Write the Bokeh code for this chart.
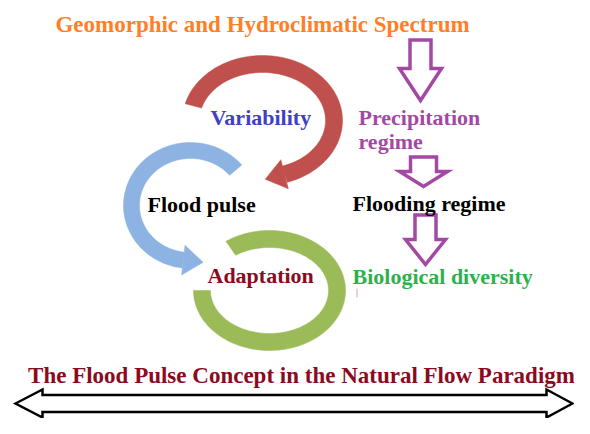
import numpy as np
from bokeh.plotting import figure
from bokeh.models import Range1d
from bokeh.embed import file_html
from bokeh.resources import INLINE
from bokeh.core.properties import value

# ---- content ----
title_text = "Geomorphic and Hydroclimatic Spectrum"
footer_text = "The Flood Pulse Concept in the Natural Flow Paradigm"
cycle_labels = ["Variability", "Flood pulse", "Adaptation"]
chain_labels = ["Precipitation", "regime", "Flooding regime", "Biological diversity"]

# ---- layout (pixel coordinates, y downward) ----
cycle_x = [210, 147, 207]
cycle_y = [117, 204, 275]
cycle_colors = ["#4040C4", "#000000", "#8B0A1E"]
chain_x = [358, 358, 352, 352]
chain_y = [117, 141, 203, 276]
chain_colors = ["#A349A4", "#A349A4", "#000000", "#2DB24A"]

# rings: cx, cy, rx, ry, width, start angle, end angle, colour, arrowhead?
rings = [
    (262, 120, 71.5, 56.5, 17, 165, -72, "#C0504D", True),
    (190, 205, 59.0, 55.0, 16, 40, 263, "#8DB3E2", True),
    (269, 290, 67.5, 51.5, 17, 125, -180, "#9BBB59", False),
]

# hollow down arrows: cx, shaft half width, head half width, top, neck, tip
down_arrows = [
    (420, 10.5, 21, 39.5, 68, 100),
    (423, 13.0, 24, 156.5, 171, 186),
    (425, 10.5, 20, 214.5, 239, 264),
]

FONT = value("Liberation Serif")

p = figure(width=574, height=418, x_range=Range1d(0, 574), y_range=Range1d(418, 0),
           x_axis_type=None, y_axis_type=None, toolbar_location=None,
           output_backend="svg", min_border=0)
p.grid.visible = False
p.outline_line_color = None
p.background_fill_color = "white"
p.border_fill_color = "white"


def ring_patch(cx, cy, rx, ry, w, a0, a1, n=160):
    t = np.radians(np.linspace(a0, a1, n))
    xo = cx + (rx + w / 2) * np.cos(t)
    yo = cy - (ry + w / 2) * np.sin(t)
    xi = cx + (rx - w / 2) * np.cos(t)
    yi = cy - (ry - w / 2) * np.sin(t)
    return np.r_[xo, xi[::-1]], np.r_[yo, yi[::-1]]


for cx, cy, rx, ry, w, a0, a1, col, head in rings:
    xs, ys = ring_patch(cx, cy, rx, ry, w, a0, a1)
    p.patch(xs, ys, fill_color=col, line_color=col, line_width=0.5)
    if head:
        t = np.radians(a1)
        s = np.sign(a1 - a0)
        bx, by = cx + rx * np.cos(t), cy - ry * np.sin(t)
        dx, dy = -rx * np.sin(t) * s, -ry * np.cos(t) * s
        L = np.hypot(dx, dy)
        dx, dy = dx / L, dy / L
        nx, ny = -dy, dx
        hw, hl = 15, 20
        p.patch([bx + nx * hw, bx + dx * hl, bx - nx * hw],
                [by + ny * hw, by + dy * hl, by - ny * hw],
                fill_color=col, line_color=col, line_width=0.5)

for cx, sh, hh, top, neck, tip in down_arrows:
    xs = [cx - sh, cx + sh, cx + sh, cx + hh, cx, cx - hh, cx - sh]
    ys = [top, top, neck, neck, tip, neck, neck]
    p.patch(xs, ys, fill_color="white", line_color="#A349A4", line_width=3.5,
            line_join="miter")

# double-headed arrow at bottom
ay, ash, ahh = 403, 8.5, 14
lt, ln, rn, rt = 15, 42, 546, 572
p.patch([lt, ln, ln, rn, rn, rt, rn, rn, ln, ln],
        [ay, ay - ahh, ay - ash, ay - ash, ay - ahh, ay, ay + ahh, ay + ash, ay + ash, ay + ahh],
        fill_color="white", line_color="black", line_width=2.5, line_join="miter")

# small stray mark
p.segment(x0=[356.5], y0=[288], x1=[356.5], y1=[297], line_color="#E3A0A0", line_width=1)

# texts
p.text(x=[262], y=[24], text=[title_text], text_color="#FF7F27", text_font=FONT,
       text_font_style="bold", text_font_size="23px", text_align="center",
       text_baseline="alphabetic")
p.text(x=[301], y=[375], text=[footer_text], text_color="#8B0A1E", text_font=FONT,
       text_font_style="bold", text_font_size="23px", text_align="center",
       text_baseline="alphabetic")
p.text(x=cycle_x, y=cycle_y, text=cycle_labels, text_color=cycle_colors, text_font=FONT,
       text_font_style="bold", text_font_size="22px", text_align="left",
       text_baseline="alphabetic")
p.text(x=chain_x, y=chain_y, text=chain_labels, text_color=chain_colors, text_font=FONT,
       text_font_style="bold", text_font_size="22px", text_align="left",
       text_baseline="alphabetic")

open("out.html", "w").write(file_html(p, INLINE))
